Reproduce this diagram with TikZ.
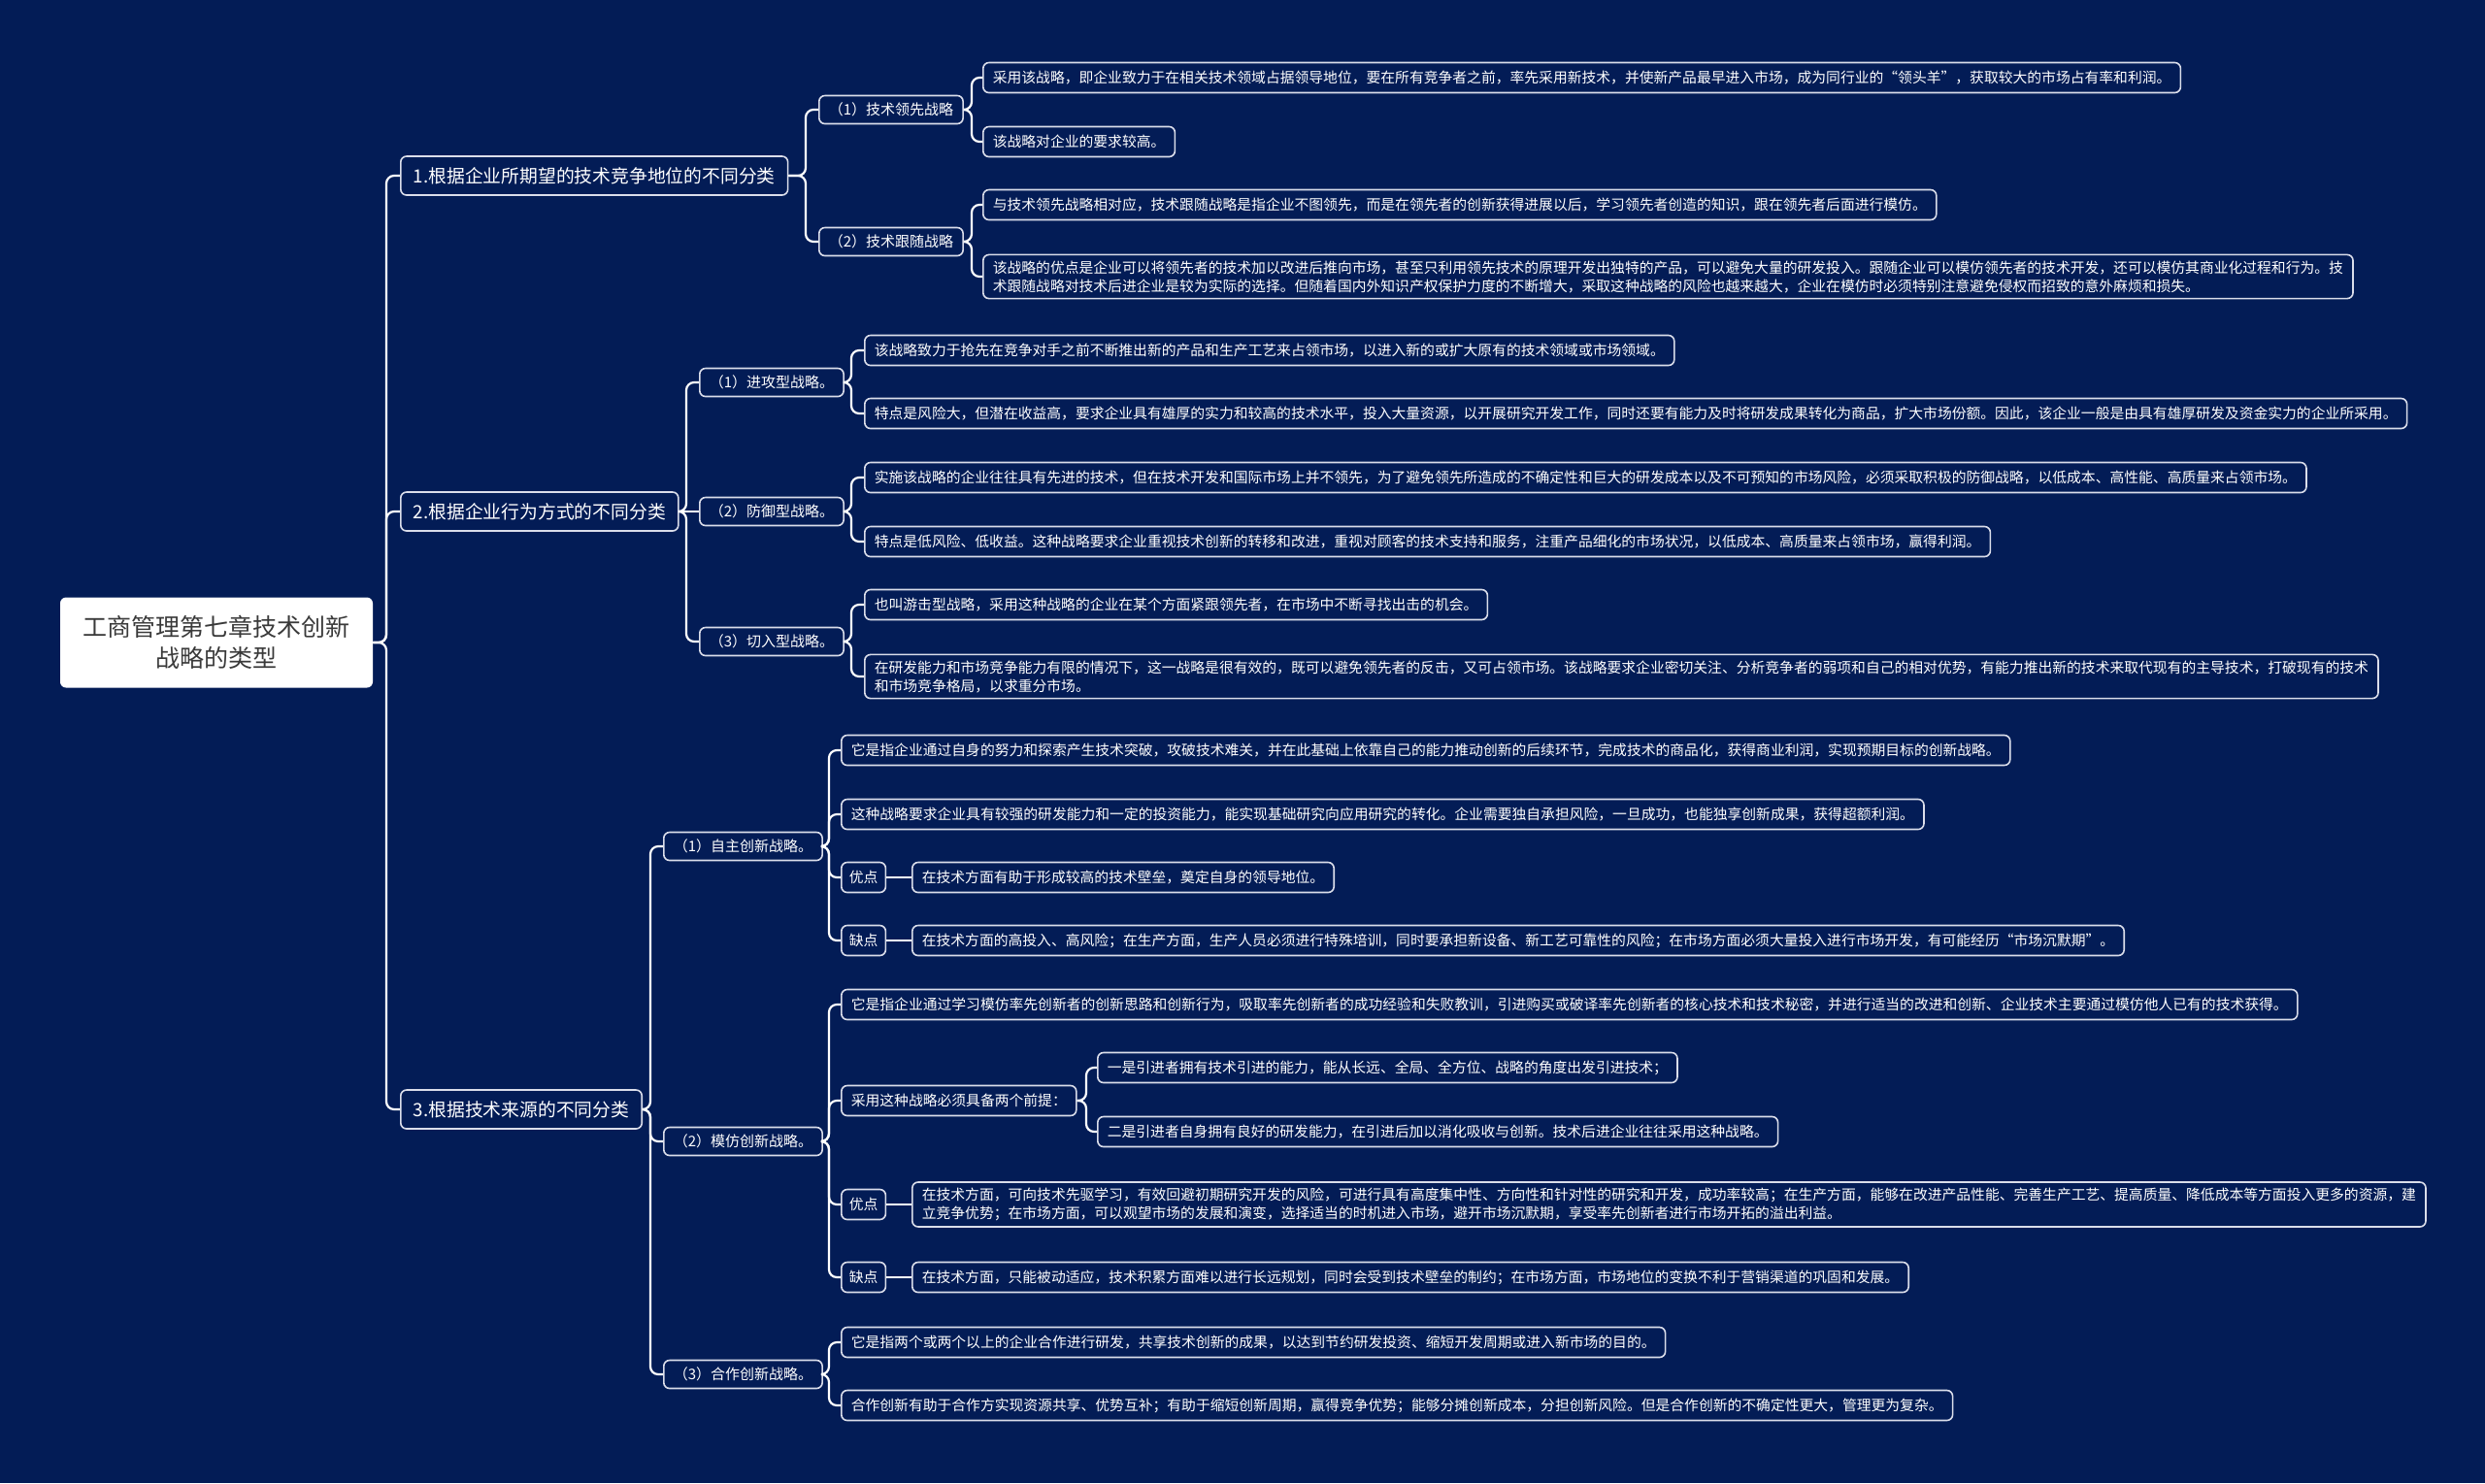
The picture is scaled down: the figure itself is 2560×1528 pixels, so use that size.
\documentclass[tikz,border=0pt]{standalone}
\usepackage{fontspec}
\setmainfont{Noto Sans CJK SC}
\usepackage{tikz}
\usetikzlibrary{calc}
\definecolor{bg}{HTML}{031C56}
\definecolor{edge}{HTML}{DADDEA}
\definecolor{rootink}{HTML}{3A3A3A}
\newcommand{\leafsize}{\fontsize{7.4}{9.5}\selectfont}

\begin{document}
\begin{tikzpicture}[x=0.5pt, y=-0.5pt,
  root/.style={fill=white, text=rootink, rounded corners=3pt, align=center,
    font=\fontsize{12.5}{16}\selectfont, minimum width=161pt, minimum height=46.5pt},
  cat/.style={draw=edge, fill=bg, text=white, line width=0.8pt, rounded corners=3pt,
    anchor=west, font=\fontsize{9.4}{11}\selectfont, inner xsep=6.5pt, minimum height=20pt},
  sub/.style={draw=edge, fill=bg, text=white, line width=0.8pt, rounded corners=3pt,
    anchor=west, font=\fontsize{7.5}{9.5}\selectfont, inner xsep=5pt, minimum height=14.5pt},
  leaf/.style={draw=edge, fill=bg, text=white, line width=0.8pt, rounded corners=3pt,
    anchor=west, align=left, font=\leafsize, inner xsep=5pt, inner ysep=3pt, minimum height=15.5pt},
  tag/.style={leaf, inner xsep=4pt},
  link/.style={draw=white, line width=1.1pt, rounded corners=4pt},
]
\fill[bg] (0,0) rectangle (2560,1528);
\useasboundingbox (0,0) rectangle (2560,1528);

\node[root] (0) at (223,662) {工商管理第七章技术创新\\战略的类型};

\node[cat] (1) at (412,181)  {1.根据企业所期望的技术竞争地位的不同分类};
\node[cat] (2) at (412,527)  {2.根据企业行为方式的不同分类};
\node[cat] (3) at (412,1143) {3.根据技术来源的不同分类};

\node[sub] (11) at (843,113) {（1）技术领先战略};
\node[sub] (12) at (843,249) {（2）技术跟随战略};
\node[sub] (21) at (720,394) {（1）进攻型战略。};
\node[sub] (22) at (720,527) {（2）防御型战略。};
\node[sub] (23) at (720,661) {（3）切入型战略。};
\node[sub] (31) at (683,872)  {（1）自主创新战略。};
\node[sub] (32) at (683,1176) {（2）模仿创新战略。};
\node[sub] (33) at (683,1416) {（3）合作创新战略。};

\node[leaf] (111) at (1012,80)  {采用该战略，即企业致力于在相关技术领域占据领导地位，要在所有竞争者之前，率先采用新技术，并使新产品最早进入市场，成为同行业的“领头羊”，获取较大的市场占有率和利润。};
\node[leaf] (112) at (1012,146) {该战略对企业的要求较高。};
\node[leaf] (121) at (1012,211) {与技术领先战略相对应，技术跟随战略是指企业不图领先，而是在领先者的创新获得进展以后，学习领先者创造的知识，跟在领先者后面进行模仿。};
\node[leaf] (122) at (1012,285) {该战略的优点是企业可以将领先者的技术加以改进后推向市场，甚至只利用领先技术的原理开发出独特的产品，可以避免大量的研发投入。跟随企业可以模仿领先者的技术开发，还可以模仿其商业化过程和行为。技\\术跟随战略对技术后进企业是较为实际的选择。但随着国内外知识产权保护力度的不断增大，采取这种战略的风险也越来越大，企业在模仿时必须特别注意避免侵权而招致的意外麻烦和损失。};

\node[leaf] (211) at (890,361) {该战略致力于抢先在竞争对手之前不断推出新的产品和生产工艺来占领市场，以进入新的或扩大原有的技术领域或市场领域。};
\node[leaf] (212) at (890,426) {特点是风险大，但潜在收益高，要求企业具有雄厚的实力和较高的技术水平，投入大量资源，以开展研究开发工作，同时还要有能力及时将研发成果转化为商品，扩大市场份额。因此，该企业一般是由具有雄厚研发及资金实力的企业所采用。};
\node[leaf] (221) at (890,492) {实施该战略的企业往往具有先进的技术，但在技术开发和国际市场上并不领先，为了避免领先所造成的不确定性和巨大的研发成本以及不可预知的市场风险，必须采取积极的防御战略，以低成本、高性能、高质量来占领市场。};
\node[leaf] (222) at (890,558) {特点是低风险、低收益。这种战略要求企业重视技术创新的转移和改进，重视对顾客的技术支持和服务，注重产品细化的市场状况，以低成本、高质量来占领市场，赢得利润。};
\node[leaf] (231) at (890,623) {也叫游击型战略，采用这种战略的企业在某个方面紧跟领先者，在市场中不断寻找出击的机会。};
\node[leaf] (232) at (890,697) {在研发能力和市场竞争能力有限的情况下，这一战略是很有效的，既可以避免领先者的反击，又可占领市场。该战略要求企业密切关注、分析竞争者的弱项和自己的相对优势，有能力推出新的技术来取代现有的主导技术，打破现有的技术\\和市场竞争格局，以求重分市场。};

\node[leaf] (311) at (866,773) {它是指企业通过自身的努力和探索产生技术突破，攻破技术难关，并在此基础上依靠自己的能力推动创新的后续环节，完成技术的商品化，获得商业利润，实现预期目标的创新战略。};
\node[leaf] (312) at (866,839) {这种战略要求企业具有较强的研发能力和一定的投资能力，能实现基础研究向应用研究的转化。企业需要独自承担风险，一旦成功，也能独享创新成果，获得超额利润。};
\node[tag]  (313) at (866,904) {优点};
\node[leaf] (3131) at (939,904) {在技术方面有助于形成较高的技术壁垒，奠定自身的领导地位。};
\node[tag]  (314) at (866,969) {缺点};
\node[leaf] (3141) at (939,969) {在技术方面的高投入、高风险；在生产方面，生产人员必须进行特殊培训，同时要承担新设备、新工艺可靠性的风险；在市场方面必须大量投入进行市场开发，有可能经历“市场沉默期”。};

\node[leaf] (321) at (866,1035) {它是指企业通过学习模仿率先创新者的创新思路和创新行为，吸取率先创新者的成功经验和失败教训，引进购买或破译率先创新者的核心技术和技术秘密，并进行适当的改进和创新、企业技术主要通过模仿他人已有的技术获得。};
\node[leaf] (322) at (866,1134) {采用这种战略必须具备两个前提：};
\node[leaf] (3221) at (1130,1100) {一是引进者拥有技术引进的能力，能从长远、全局、全方位、战略的角度出发引进技术；};
\node[leaf] (3222) at (1130,1166) {二是引进者自身拥有良好的研发能力，在引进后加以消化吸收与创新。技术后进企业往往采用这种战略。};
\node[tag]  (323) at (866,1241) {优点};
\node[leaf] (3231) at (939,1241) {在技术方面，可向技术先驱学习，有效回避初期研究开发的风险，可进行具有高度集中性、方向性和针对性的研究和开发，成功率较高；在生产方面，能够在改进产品性能、完善生产工艺、提高质量、降低成本等方面投入更多的资源，建\\立竞争优势；在市场方面，可以观望市场的发展和演变，选择适当的时机进入市场，避开市场沉默期，享受率先创新者进行市场开拓的溢出利益。};
\node[tag]  (324) at (866,1316) {缺点};
\node[leaf] (3241) at (939,1316) {在技术方面，只能被动适应，技术积累方面难以进行长远规划，同时会受到技术壁垒的制约；在市场方面，市场地位的变换不利于营销渠道的巩固和发展。};

\node[leaf] (331) at (866,1383) {它是指两个或两个以上的企业合作进行研发，共享技术创新的成果，以达到节约研发投资、缩短开发周期或进入新市场的目的。};
\node[leaf] (332) at (866,1448) {合作创新有助于合作方实现资源共享、优势互补；有助于缩短创新周期，赢得竞争优势；能够分摊创新成本，分担创新风险。但是合作创新的不确定性更大，管理更为复杂。};

% root to the three classes
\draw[link] (0.east) -| ([xshift=-7pt]1.west) -- (1.west);
\draw[link] (0.east) -| ([xshift=-7pt]2.west) -- (2.west);
\draw[link] (0.east) -| ([xshift=-7pt]3.west) -- (3.west);
% class 1
\draw[link] (1.east) -| ([xshift=-6.5pt]11.west) -- (11.west);
\draw[link] (1.east) -| ([xshift=-6.5pt]12.west) -- (12.west);
\draw[link] (11.east) -| ([xshift=-5.5pt]111.west) -- (111.west);
\draw[link] (11.east) -| ([xshift=-5.5pt]112.west) -- (112.west);
\draw[link] (12.east) -| ([xshift=-5.5pt]121.west) -- (121.west);
\draw[link] (12.east) -| ([xshift=-5.5pt]122.west) -- (122.west);
% class 2
\draw[link] (2.east) -| ([xshift=-6.5pt]21.west) -- (21.west);
\draw[link] (2.east) -- (22.west);
\draw[link] (2.east) -| ([xshift=-6.5pt]23.west) -- (23.west);
\draw[link] (21.east) -| ([xshift=-6.5pt]211.west) -- (211.west);
\draw[link] (21.east) -| ([xshift=-6.5pt]212.west) -- (212.west);
\draw[link] (22.east) -| ([xshift=-6.5pt]221.west) -- (221.west);
\draw[link] (22.east) -| ([xshift=-6.5pt]222.west) -- (222.west);
\draw[link] (23.east) -| ([xshift=-6.5pt]231.west) -- (231.west);
\draw[link] (23.east) -| ([xshift=-6.5pt]232.west) -- (232.west);
% class 3
\draw[link] (3.east) -| ([xshift=-6.5pt]31.west) -- (31.west);
\draw[link] (3.east) -| ([xshift=-6.5pt]32.west) -- (32.west);
\draw[link] (3.east) -| ([xshift=-6.5pt]33.west) -- (33.west);
\draw[link] (31.east) -| ([xshift=-6pt]311.west) -- (311.west);
\draw[link] (31.east) -| ([xshift=-6pt]312.west) -- (312.west);
\draw[link] (31.east) -| ([xshift=-6pt]313.west) -- (313.west);
\draw[link] (31.east) -| ([xshift=-6pt]314.west) -- (314.west);
\draw[link] (313.east) -- (3131.west);
\draw[link] (314.east) -- (3141.west);
\draw[link] (32.east) -| ([xshift=-6pt]321.west) -- (321.west);
\draw[link] (32.east) -| ([xshift=-6pt]322.west) -- (322.west);
\draw[link] (32.east) -| ([xshift=-6pt]323.west) -- (323.west);
\draw[link] (32.east) -| ([xshift=-6pt]324.west) -- (324.west);
\draw[link] (322.east) -| ([xshift=-5.5pt]3221.west) -- (3221.west);
\draw[link] (322.east) -| ([xshift=-5.5pt]3222.west) -- (3222.west);
\draw[link] (323.east) -- (3231.west);
\draw[link] (324.east) -- (3241.west);
\draw[link] (33.east) -| ([xshift=-6pt]331.west) -- (331.west);
\draw[link] (33.east) -| ([xshift=-6pt]332.west) -- (332.west);
\end{tikzpicture}
\end{document}
